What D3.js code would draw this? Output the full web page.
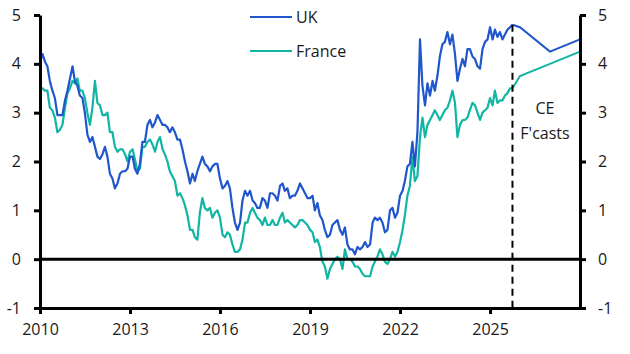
<!DOCTYPE html>
<html>
<head>
<meta charset="utf-8">
<script src="https://cdn.jsdelivr.net/npm/d3@7"></script>
<style>
  body { margin: 0; background: #fff; }
  text { font-family: "Open Sans", sans-serif; fill: #1a1a1a; }
</style>
</head>
<body>
<div id="chart"></div>
<script>
// monthly 10y yields, Jan 2010 .. Oct 2025 (%)
var ukValues = [
  4.05, 4.2, 4.05, 3.95, 3.65, 3.45, 3.3, 2.95, 2.95, 2.95, 3.25, 3.45,
  3.7, 3.95, 3.65, 3.55, 3.35, 3.3, 3.0, 2.55, 2.4, 2.5, 2.3, 2.1,
  2.05, 2.15, 2.3, 2.1, 1.75, 1.65, 1.45, 1.55, 1.75, 1.8, 1.8, 1.85,
  2.1, 2.1, 1.85, 1.75, 1.95, 2.4, 2.4, 2.75, 2.85, 2.7, 2.8, 2.95,
  2.85, 2.75, 2.75, 2.7, 2.6, 2.7, 2.6, 2.45, 2.45, 2.25, 2.0, 1.8,
  1.55, 1.75, 1.6, 1.8, 1.95, 2.1, 1.95, 1.9, 1.8, 1.9, 1.95, 1.95,
  1.65, 1.45, 1.5, 1.6, 1.45, 1.05, 0.75, 0.6, 0.75, 1.2, 1.4, 1.3,
  1.4, 1.2, 1.15, 1.05, 1.05, 1.25, 1.2, 1.05, 1.35, 1.35, 1.3, 1.2,
  1.5, 1.55, 1.4, 1.45, 1.25, 1.3, 1.3, 1.4, 1.55, 1.45, 1.35, 1.25,
  1.25, 1.3, 1.0, 1.15, 0.9, 0.8, 0.6, 0.45, 0.5, 0.7, 0.75, 0.8,
  0.6, 0.5, 0.65, 0.3, 0.2, 0.2, 0.1, 0.25, 0.2, 0.25, 0.35, 0.25,
  0.3, 0.75, 0.85, 0.8, 0.85, 0.75, 0.55, 0.6, 1.0, 1.05, 0.85, 0.95,
  1.3, 1.4, 1.6, 1.9, 1.95, 2.4, 1.9, 2.6, 4.5, 3.55, 3.15, 3.6,
  3.35, 3.65, 3.45, 3.75, 4.15, 4.4, 4.45, 4.65, 4.4, 4.6, 4.2, 3.65,
  3.9, 4.1, 3.95, 4.3, 4.3, 4.15, 4.1, 3.95, 3.9, 4.3, 4.45, 4.5,
  4.75, 4.5, 4.7, 4.55, 4.65, 4.5, 4.6, 4.7, 4.75, 4.8
];
var franceValues = [
  3.5, 3.5, 3.45, 3.45, 3.1, 3.05, 2.9, 2.6, 2.65, 2.75, 3.1, 3.4,
  3.5, 3.65, 3.6, 3.7, 3.45, 3.45, 3.3, 3.0, 2.75, 3.1, 3.65, 3.2,
  3.15, 2.95, 2.95, 3.0, 2.6, 2.6, 2.3, 2.2, 2.25, 2.25, 2.15, 2.0,
  2.2, 2.25, 2.05, 1.8, 1.85, 2.3, 2.3, 2.4, 2.45, 2.35, 2.2, 2.4,
  2.5, 2.25, 2.15, 2.0, 1.8, 1.7, 1.6, 1.3, 1.35, 1.25, 1.1, 0.9,
  0.6, 0.6, 0.45, 0.4, 0.95, 1.25, 1.05, 1.0, 1.05, 0.85, 0.95, 1.0,
  0.85, 0.5, 0.45, 0.55, 0.5, 0.3, 0.15, 0.15, 0.2, 0.4, 0.75, 0.75,
  0.95, 1.05, 0.95, 0.85, 0.8, 0.7, 0.85, 0.7, 0.7, 0.8, 0.7, 0.7,
  0.85, 0.95, 0.75, 0.8, 0.75, 0.7, 0.65, 0.7, 0.8, 0.8, 0.75, 0.7,
  0.6, 0.55, 0.35, 0.4, 0.25, -0.05, -0.15, -0.4, -0.2, -0.1, 0.0, 0.05,
  0.0, -0.2, 0.2, 0.0, 0.0, -0.05, -0.15, -0.15, -0.2, -0.3, -0.35, -0.35,
  -0.35, -0.15, -0.05, 0.05, 0.2, 0.1, -0.05, -0.1, 0.0, 0.15, 0.05, 0.15,
  0.35, 0.6, 0.9, 1.3, 1.5, 2.1, 1.6, 1.7, 2.5, 2.9, 2.5, 2.75,
  2.85, 2.95, 3.05, 2.95, 2.85, 2.95, 3.05, 3.1, 3.25, 3.45, 3.2, 2.5,
  2.75, 2.85, 2.85, 2.9, 3.05, 3.2, 3.15, 3.0, 2.85, 3.0, 3.05, 3.1,
  3.3, 3.15, 3.45, 3.2, 3.25, 3.25, 3.35, 3.4, 3.5, 3.5
];
// CE forecasts: last actual, end-2025, end-2026, end-2027
var forecastDates = ["2025-10-01", "2025-12-31", "2026-12-31", "2027-12-31"];
var ukForecast = [4.8, 4.75, 4.25, 4.5];
var franceForecast = [3.5, 3.75, 4.0, 4.25];

var yTicks = [-1, 0, 1, 2, 3, 4, 5];
var xTickYears = [2010, 2013, 2016, 2019, 2022, 2025];

var ukColor = '#1f56cc';
var frColor = '#10b5a4';

var width = 630, height = 354;
var margin = {left: 40, right: 50, top: 15, bottom: 46};

var parse = d3.timeParse('%Y-%m-%d');
var months = d3.timeMonth.range(new Date(2010, 0, 1), new Date(2025, 10, 1));
var fcDates = forecastDates.map(parse);

var x = d3.scaleTime()
    .domain([new Date(2010, 0, 1), new Date(2028, 0, 1)])
    .range([margin.left, width - margin.right]);
var y = d3.scaleLinear()
    .domain([-1, 5])
    .range([height - margin.bottom, margin.top]);

var svg = d3.select('#chart').append('svg')
    .attr('width', width)
    .attr('height', height);

var line = d3.line()
    .x(function (d) { return x(d[0]); })
    .y(function (d) { return y(d[1]); });

function pairs(dates, vals) {
    return vals.map(function (v, i) { return [dates[i], v]; });
}

// series
var series = [
    {hist: ukValues, fc: ukForecast, color: ukColor},
    {hist: franceValues, fc: franceForecast, color: frColor}
];
series.slice().reverse().forEach(function (s) {
    svg.append('path')
        .attr('fill', 'none')
        .attr('stroke', s.color)
        .attr('stroke-width', 2.2)
        .attr('stroke-linejoin', 'round')
        .attr('d', line(pairs(months, s.hist)));
    svg.append('path')
        .attr('fill', 'none')
        .attr('stroke', s.color)
        .attr('stroke-width', 2)
        .attr('d', line(pairs(fcDates, s.fc)));
});

// zero line
svg.append('line')
    .attr('x1', x.range()[0]).attr('x2', x.range()[1])
    .attr('y1', y(0)).attr('y2', y(0))
    .attr('stroke', '#000').attr('stroke-width', 3);

// forecast divider
svg.append('line')
    .attr('x1', x(fcDates[0])).attr('x2', x(fcDates[0]))
    .attr('y1', y(ukForecast[0])).attr('y2', y(-1))
    .attr('stroke', '#000').attr('stroke-width', 2)
    .attr('stroke-dasharray', '7,5');

svg.append('text')
    .attr('x', 545).attr('y', 114)
    .attr('text-anchor', 'middle')
    .style('font-size', '16px')
    .text('CE');
svg.append('text')
    .attr('x', 545).attr('y', 139)
    .attr('text-anchor', 'middle')
    .style('font-size', '16px')
    .text("F'casts");

// axes
var plainNum = function (d) { return String(d); };
var leftAxis = d3.axisLeft(y).tickValues(yTicks).tickFormat(plainNum).tickSize(6).tickPadding(13);
var rightAxis = d3.axisRight(y).tickValues(yTicks).tickFormat(plainNum).tickSize(6).tickPadding(12);
var bottomAxis = d3.axisBottom(x)
    .tickValues(xTickYears.map(function (yr) { return new Date(yr, 0, 1); }))
    .tickFormat(d3.timeFormat('%Y'))
    .tickSize(6).tickPadding(10);

function styleAxis(g) {
    g.select('.domain').attr('stroke', '#000').attr('stroke-width', 3);
    g.selectAll('.tick line').attr('stroke', '#000').attr('stroke-width', 3);
    g.selectAll('.tick text')
        .style('font-family', '"Open Sans", sans-serif')
        .style('font-size', '16px')
        .attr('fill', '#1a1a1a');
}

svg.append('g')
    .attr('transform', 'translate(0,' + y(-1) + ')')
    .call(bottomAxis.tickSizeOuter(0))
    .call(styleAxis);
svg.append('g')
    .attr('transform', 'translate(' + x.range()[0] + ',0)')
    .call(leftAxis.tickSizeOuter(0))
    .call(styleAxis);
svg.append('g')
    .attr('transform', 'translate(' + x.range()[1] + ',0)')
    .call(rightAxis.tickSizeOuter(0))
    .call(styleAxis);

// legend
var legendItems = [{name: 'UK', color: ukColor}, {name: 'France', color: frColor}];
legendItems.forEach(function (d, i) {
    var ly = 17 + i * 34;
    svg.append('line')
        .attr('x1', 250).attr('x2', 292)
        .attr('y1', ly).attr('y2', ly)
        .attr('stroke', d.color).attr('stroke-width', 2);
    svg.append('text')
        .attr('x', 296).attr('y', ly)
        .attr('dy', '0.35em')
        .style('font-size', '16px')
        .text(d.name);
});
</script>
</body>
</html>
